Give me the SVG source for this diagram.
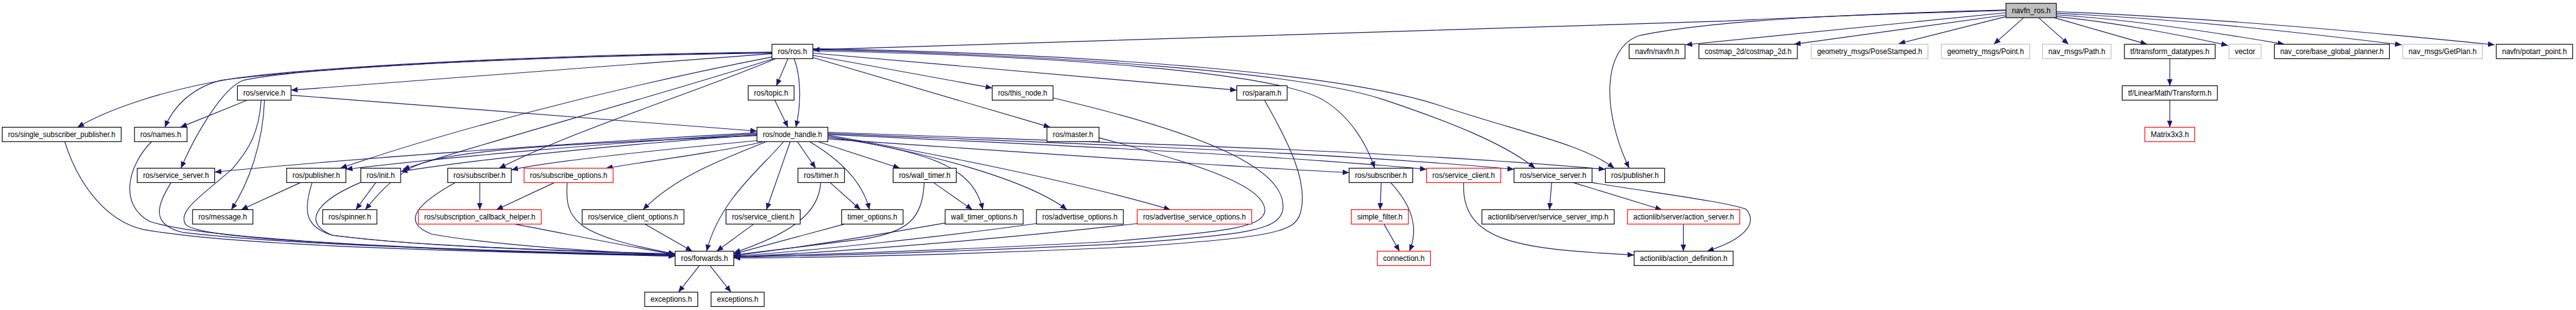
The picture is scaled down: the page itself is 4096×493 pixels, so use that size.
<svg xmlns="http://www.w3.org/2000/svg" width="4096" height="493" viewBox="0 0 4096 493">
<style>
.n rect{fill:#fff;stroke:#000;stroke-width:1.3}
.n.g rect{stroke:#bfbfbf}
.n.r rect{stroke:#f00}
.n.root rect{fill:#bfbfbf}
.n text{font-family:"Liberation Sans",Arial,sans-serif;font-size:14px;text-anchor:middle;fill:#000}
#edges path{fill:none;stroke:#191970;stroke-width:1.3;marker-end:url(#a)}
</style>
<defs>
<marker id="a" markerUnits="userSpaceOnUse" markerWidth="13" markerHeight="10" refX="12" refY="5" orient="auto"><path d="M0,0 L12,5 L0,10 z" fill="#191970"/></marker>
</defs>
<rect width="4096" height="493" fill="#fff"/>
<g transform="scale(0.8799)">
<g id="edges">
<path d="M3625,19 C3450,24 3250,31 3120,38 L1469,90"/>
<path d="M3625,23 L3046,81"/>
<path d="M3625,27 L3242,80"/>
<path d="M3625,30 L3431,79"/>
<path d="M3657,32 L3603,80"/>
<path d="M3684,32 L3738,80"/>
<path d="M3712,32 L3880,80"/>
<path d="M3716,30 C3820,40 3950,65 4026,82"/>
<path d="M3716,27 C3850,35 4000,58 4128,80"/>
<path d="M3716,24 C3950,35 4150,58 4340,81"/>
<path d="M3716,21 C4000,32 4300,60 4508,81"/>
<path d="M3625,18 C3400,24 3100,34 2960,65 C2895,90 2895,200 2944,304"/>
<path d="M1395,97 L526,163"/>
<path d="M1395,94 C1000,99 600,118 420,142 C300,162 200,195 140,230"/>
<path d="M1395,95 C1000,100 600,120 400,145 C340,160 310,200 298,230"/>
<path d="M1395,96 C1000,101 560,120 440,145 C400,160 350,250 327,304"/>
<path d="M1395,103 C1100,160 800,240 615,304"/>
<path d="M1398,106 C1200,170 900,250 728,306"/>
<path d="M1402,106 C1250,170 1050,230 902,304"/>
<path d="M1424,106 L1403,155"/>
<path d="M1435,106 C1448,140 1448,190 1438,230"/>
<path d="M1469,100 L1793,159"/>
<path d="M1469,96 L2235,163"/>
<path d="M1469,104 L1898,230"/>
<path d="M1469,92 C1900,100 2300,130 2390,180 C2440,210 2470,260 2484,304"/>
<path d="M1469,90 C1900,98 2350,130 2500,180 C2620,220 2720,260 2774,304"/>
<path d="M1469,88 C1900,96 2400,125 2600,190 C2750,240 2860,260 2917,304"/>
<path d="M1416,256 C1380,300 1300,360 1277,454"/>
<path d="M1428,256 L1385,379"/>
<path d="M1441,256 L1474,304"/>
<path d="M1463,256 C1520,290 1560,330 1571,379"/>
<path d="M1478,256 L1626,304"/>
<path d="M1496,248 C1700,275 1760,310 1776,379"/>
<path d="M1496,246 C1650,270 1850,320 1928,379"/>
<path d="M1496,244 C1700,280 1950,330 2115,379"/>
<path d="M1496,251 C1800,272 2200,300 2438,312"/>
<path d="M1496,243 C1900,262 2300,280 2578,306"/>
<path d="M1496,241 C1900,258 2400,275 2736,306"/>
<path d="M1496,239 C1900,255 2500,270 2901,306"/>
<path d="M1368,240 C1000,260 600,290 388,311"/>
<path d="M1368,242 C1100,258 800,285 625,306"/>
<path d="M1368,244 C1100,262 850,290 724,310"/>
<path d="M1368,245 C1000,262 800,270 740,305 C700,330 680,355 660,379"/>
<path d="M1370,254 C1200,270 1000,290 924,307"/>
<path d="M1380,256 C1300,275 1180,290 1095,304"/>
<path d="M1385,256 C1300,290 1220,320 1162,379"/>
<path d="M526,172 L1368,237"/>
<path d="M447,181 L326,230"/>
<path d="M478,181 C475,260 450,330 418,379"/>
<path d="M472,181 C468,240 450,270 420,305 C370,350 320,380 335,405 C350,425 500,435 800,450 C1000,458 1150,461 1220,462"/>
<path d="M1400,181 L1424,230"/>
<path d="M1903,177 C2150,235 2330,300 2318,380 C2310,415 2260,425 2000,442 C1700,456 1450,463 1326,465"/>
<path d="M1986,249 C2180,300 2295,340 2285,385 C2275,410 2230,418 2000,437 C1700,453 1450,461 1326,464"/>
<path d="M2285,181 C2330,260 2365,330 2350,385 C2340,420 2300,428 2050,446 C1750,460 1450,467 1326,466"/>
<path d="M1500,330 L1555,379"/>
<path d="M1483,330 C1480,390 1420,425 1326,457"/>
<path d="M1526,405 L1326,459"/>
<path d="M1687,330 L1757,379"/>
<path d="M1670,330 C1668,395 1640,420 1560,432 C1460,445 1380,455 1326,461"/>
<path d="M1708,403 C1600,422 1450,447 1326,462"/>
<path d="M1873,404 C1700,428 1480,452 1326,463"/>
<path d="M2055,404 C1800,433 1500,457 1326,464"/>
<path d="M867,330 L867,379"/>
<path d="M1002,330 L897,379"/>
<path d="M1025,330 C1020,400 1040,425 1220,459"/>
<path d="M930,405 C1050,428 1150,448 1220,460"/>
<path d="M823,330 C760,365 720,400 780,423 C900,445 1100,455 1220,462"/>
<path d="M1165,405 L1251,454"/>
<path d="M1362,405 L1295,454"/>
<path d="M1264,480 L1226,528"/>
<path d="M1283,480 L1321,528"/>
<path d="M117,256 C140,330 190,400 260,415 C400,440 700,452 1220,463"/>
<path d="M274,256 C230,300 215,370 270,400 C360,430 700,450 1220,462"/>
<path d="M309,330 C285,370 270,405 330,420 C500,440 800,452 1220,461"/>
<path d="M564,330 C548,380 550,410 600,425 C750,445 1000,452 1220,459"/>
<path d="M651,330 C580,360 540,400 600,425 C750,445 1000,453 1220,460"/>
<path d="M543,330 L436,379"/>
<path d="M679,330 L643,379"/>
<path d="M2496,330 L2494,379"/>
<path d="M2513,330 C2550,370 2565,410 2547,454"/>
<path d="M2501,405 L2529,454"/>
<path d="M2645,330 C2640,440 2750,450 2953,461"/>
<path d="M2804,330 L2800,379"/>
<path d="M2843,330 L3003,379"/>
<path d="M2877,330 C3000,350 3120,365 3155,378 C3175,400 3160,430 3085,454"/>
<path d="M3042,405 L3042,454"/>
<path d="M3921,106 L3921,155"/>
<path d="M3921,181 L3921,230"/>
</g>
<g id="n0" class="n root"><rect x="3625" y="6" width="91" height="26"/><text x="3670.5" y="24" textLength="70" lengthAdjust="spacingAndGlyphs">navfn_ros.h</text></g>
<g id="n1" class="n"><rect x="1395" y="80" width="74" height="26"/><text x="1432" y="98" textLength="53" lengthAdjust="spacingAndGlyphs">ros/ros.h</text></g>
<g id="n2" class="n"><rect x="2944" y="80" width="101" height="26"/><text x="2994.5" y="98" textLength="80" lengthAdjust="spacingAndGlyphs">navfn/navfn.h</text></g>
<g id="n3" class="n"><rect x="3070" y="80" width="178" height="26"/><text x="3159" y="98" textLength="157" lengthAdjust="spacingAndGlyphs">costmap_2d/costmap_2d.h</text></g>
<g id="n4" class="n g"><rect x="3273" y="80" width="211" height="26"/><text x="3378.5" y="98" textLength="190" lengthAdjust="spacingAndGlyphs">geometry_msgs/PoseStamped.h</text></g>
<g id="n5" class="n g"><rect x="3508" y="80" width="160" height="26"/><text x="3588" y="98" textLength="139" lengthAdjust="spacingAndGlyphs">geometry_msgs/Point.h</text></g>
<g id="n6" class="n g"><rect x="3691" y="80" width="124" height="26"/><text x="3753" y="98" textLength="103" lengthAdjust="spacingAndGlyphs">nav_msgs/Path.h</text></g>
<g id="n7" class="n"><rect x="3839" y="80" width="164" height="26"/><text x="3921" y="98" textLength="143" lengthAdjust="spacingAndGlyphs">tf/transform_datatypes.h</text></g>
<g id="n8" class="n g"><rect x="4028" y="80" width="58" height="26"/><text x="4057" y="98" textLength="37" lengthAdjust="spacingAndGlyphs">vector</text></g>
<g id="n9" class="n"><rect x="4110" y="80" width="208" height="26"/><text x="4214" y="98" textLength="187" lengthAdjust="spacingAndGlyphs">nav_core/base_global_planner.h</text></g>
<g id="n10" class="n g"><rect x="4342" y="80" width="144" height="26"/><text x="4414" y="98" textLength="123" lengthAdjust="spacingAndGlyphs">nav_msgs/GetPlan.h</text></g>
<g id="n11" class="n"><rect x="4511" y="80" width="138" height="26"/><text x="4580" y="98" textLength="117" lengthAdjust="spacingAndGlyphs">navfn/potarr_point.h</text></g>
<g id="n12" class="n"><rect x="429" y="155" width="97" height="26"/><text x="477.5" y="173" textLength="76" lengthAdjust="spacingAndGlyphs">ros/service.h</text></g>
<g id="n13" class="n"><rect x="1352" y="155" width="83" height="26"/><text x="1393.5" y="173" textLength="62" lengthAdjust="spacingAndGlyphs">ros/topic.h</text></g>
<g id="n14" class="n"><rect x="1793" y="155" width="110" height="26"/><text x="1848" y="173" textLength="89" lengthAdjust="spacingAndGlyphs">ros/this_node.h</text></g>
<g id="n15" class="n"><rect x="2235" y="155" width="91" height="26"/><text x="2280.5" y="173" textLength="70" lengthAdjust="spacingAndGlyphs">ros/param.h</text></g>
<g id="n16" class="n"><rect x="3835" y="155" width="172" height="26"/><text x="3921" y="173" textLength="151" lengthAdjust="spacingAndGlyphs">tf/LinearMath/Transform.h</text></g>
<g id="n17" class="n"><rect x="4" y="230" width="215" height="26"/><text x="111.5" y="248" textLength="194" lengthAdjust="spacingAndGlyphs">ros/single_subscriber_publisher.h</text></g>
<g id="n18" class="n"><rect x="243" y="230" width="95" height="26"/><text x="290.5" y="248" textLength="74" lengthAdjust="spacingAndGlyphs">ros/names.h</text></g>
<g id="n19" class="n"><rect x="1368" y="230" width="128" height="26"/><text x="1432" y="248" textLength="107" lengthAdjust="spacingAndGlyphs">ros/node_handle.h</text></g>
<g id="n20" class="n"><rect x="1892" y="230" width="94" height="26"/><text x="1939" y="248" textLength="73" lengthAdjust="spacingAndGlyphs">ros/master.h</text></g>
<g id="n21" class="n r"><rect x="3876" y="230" width="90" height="26"/><text x="3921" y="248" textLength="69" lengthAdjust="spacingAndGlyphs">Matrix3x3.h</text></g>
<g id="n22" class="n"><rect x="248" y="304" width="140" height="26"/><text x="318" y="322" textLength="119" lengthAdjust="spacingAndGlyphs">ros/service_server.h</text></g>
<g id="n23" class="n"><rect x="518" y="304" width="107" height="26"/><text x="571.5" y="322" textLength="86" lengthAdjust="spacingAndGlyphs">ros/publisher.h</text></g>
<g id="n24" class="n"><rect x="652" y="304" width="72" height="26"/><text x="688" y="322" textLength="51" lengthAdjust="spacingAndGlyphs">ros/init.h</text></g>
<g id="n25" class="n"><rect x="809" y="304" width="115" height="26"/><text x="866.5" y="322" textLength="94" lengthAdjust="spacingAndGlyphs">ros/subscriber.h</text></g>
<g id="n26" class="n r"><rect x="947" y="304" width="161" height="26"/><text x="1027.5" y="322" textLength="140" lengthAdjust="spacingAndGlyphs">ros/subscribe_options.h</text></g>
<g id="n27" class="n"><rect x="1442" y="304" width="84" height="26"/><text x="1484" y="322" textLength="63" lengthAdjust="spacingAndGlyphs">ros/timer.h</text></g>
<g id="n28" class="n"><rect x="1614" y="304" width="114" height="26"/><text x="1671" y="322" textLength="93" lengthAdjust="spacingAndGlyphs">ros/wall_timer.h</text></g>
<g id="n29" class="n"><rect x="2438" y="304" width="115" height="26"/><text x="2495.5" y="322" textLength="94" lengthAdjust="spacingAndGlyphs">ros/subscriber.h</text></g>
<g id="n30" class="n r"><rect x="2578" y="304" width="134" height="26"/><text x="2645" y="322" textLength="113" lengthAdjust="spacingAndGlyphs">ros/service_client.h</text></g>
<g id="n31" class="n"><rect x="2736" y="304" width="141" height="26"/><text x="2806.5" y="322" textLength="120" lengthAdjust="spacingAndGlyphs">ros/service_server.h</text></g>
<g id="n32" class="n"><rect x="2901" y="304" width="107" height="26"/><text x="2954.5" y="322" textLength="86" lengthAdjust="spacingAndGlyphs">ros/publisher.h</text></g>
<g id="n33" class="n"><rect x="348" y="379" width="109" height="26"/><text x="402.5" y="397" textLength="88" lengthAdjust="spacingAndGlyphs">ros/message.h</text></g>
<g id="n34" class="n"><rect x="583" y="379" width="98" height="26"/><text x="632" y="397" textLength="77" lengthAdjust="spacingAndGlyphs">ros/spinner.h</text></g>
<g id="n35" class="n r"><rect x="756" y="379" width="222" height="26"/><text x="867" y="397" textLength="201" lengthAdjust="spacingAndGlyphs">ros/subscription_callback_helper.h</text></g>
<g id="n36" class="n"><rect x="1052" y="379" width="184" height="26"/><text x="1144" y="397" textLength="163" lengthAdjust="spacingAndGlyphs">ros/service_client_options.h</text></g>
<g id="n37" class="n"><rect x="1312" y="379" width="134" height="26"/><text x="1379" y="397" textLength="113" lengthAdjust="spacingAndGlyphs">ros/service_client.h</text></g>
<g id="n38" class="n"><rect x="1521" y="379" width="111" height="26"/><text x="1576.5" y="397" textLength="90" lengthAdjust="spacingAndGlyphs">timer_options.h</text></g>
<g id="n39" class="n"><rect x="1708" y="379" width="141" height="26"/><text x="1778.5" y="397" textLength="120" lengthAdjust="spacingAndGlyphs">wall_timer_options.h</text></g>
<g id="n40" class="n"><rect x="1873" y="379" width="157" height="26"/><text x="1951.5" y="397" textLength="136" lengthAdjust="spacingAndGlyphs">ros/advertise_options.h</text></g>
<g id="n41" class="n r"><rect x="2055" y="379" width="207" height="26"/><text x="2158.5" y="397" textLength="186" lengthAdjust="spacingAndGlyphs">ros/advertise_service_options.h</text></g>
<g id="n42" class="n r"><rect x="2442" y="379" width="103" height="26"/><text x="2493.5" y="397" textLength="82" lengthAdjust="spacingAndGlyphs">simple_filter.h</text></g>
<g id="n43" class="n"><rect x="2678" y="379" width="239" height="26"/><text x="2797.5" y="397" textLength="218" lengthAdjust="spacingAndGlyphs">actionlib/server/service_server_imp.h</text></g>
<g id="n44" class="n r"><rect x="2941" y="379" width="203" height="26"/><text x="3042.5" y="397" textLength="182" lengthAdjust="spacingAndGlyphs">actionlib/server/action_server.h</text></g>
<g id="n45" class="n"><rect x="1220" y="454" width="106" height="26"/><text x="1273" y="472" textLength="85" lengthAdjust="spacingAndGlyphs">ros/forwards.h</text></g>
<g id="n46" class="n r"><rect x="2489" y="454" width="96" height="26"/><text x="2537" y="472" textLength="75" lengthAdjust="spacingAndGlyphs">connection.h</text></g>
<g id="n47" class="n"><rect x="2953" y="454" width="179" height="26"/><text x="3042.5" y="472" textLength="158" lengthAdjust="spacingAndGlyphs">actionlib/action_definition.h</text></g>
<g id="n48" class="n"><rect x="1165" y="528" width="96" height="26"/><text x="1213" y="546" textLength="75" lengthAdjust="spacingAndGlyphs">exceptions.h</text></g>
<g id="n49" class="n"><rect x="1285" y="528" width="96" height="26"/><text x="1333" y="546" textLength="75" lengthAdjust="spacingAndGlyphs">exceptions.h</text></g>
</g>
</svg>
